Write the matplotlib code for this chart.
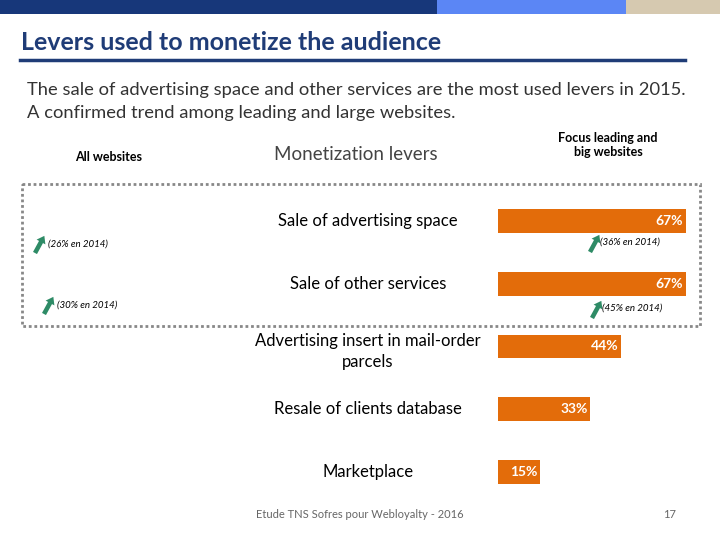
import matplotlib
matplotlib.use("Agg")
import matplotlib.pyplot as plt
from matplotlib.patches import Rectangle, FancyArrow
from matplotlib.transforms import blended_transform_factory

# Data
levers = ["Sale of advertising space", "Sale of other services",
          "Advertising insert in mail-order\nparcels", "Resale of clients database",
          "Marketplace"]
big_sites = [67, 67, 44, 33, 15]
notes_all = ["(26% en 2014)", "(30% en 2014)"]
notes_big = ["(36% en 2014)", "(45% en 2014)"]

font = "Lato"
navy = "#1F3C77"
orange = "#E36C0A"
green = "#2E8B66"

fig = plt.figure(figsize=(7.2, 5.4), dpi=100)

# overlay in pixel coordinates for the slide decorations
bg = fig.add_axes([0, 0, 1, 1])
bg.set_xlim(0, 720)
bg.set_ylim(540, 0)
bg.axis("off")

bg.add_patch(Rectangle((0, 0), 437, 14, color="#17377A", lw=0))
bg.add_patch(Rectangle((437, 0), 189, 14, color="#5B86F5", lw=0))
bg.add_patch(Rectangle((626, 0), 94, 14, color="#D6C9B0", lw=0))

bg.text(21, 42, "Levers used to monetize the audience", fontsize=18,
        color=navy, family=font, fontweight="bold", va="center", ha="left")
bg.plot([20, 685], [60, 60], color=navy, lw=2.5)

bg.text(27, 90, "The sale of advertising space and other services are the most used levers in 2015.",
        fontsize=13.2, color="#333333", family=font, va="center")
bg.text(27, 113, "A confirmed trend among leading and large websites.",
        fontsize=13.2, color="#333333", family=font, va="center")

bg.text(109, 157, "All websites", fontsize=9, fontweight="bold", family=font,
        ha="center", va="center")
bg.text(356, 155, "Monetization levers", fontsize=13.5, color="#444444", family=font,
        ha="center", va="center")
bg.text(608, 145, "Focus leading and\nbig websites", fontsize=9, fontweight="bold",
        family=font, ha="center", va="center", linespacing=1.3)

bg.add_patch(Rectangle((22, 184), 678, 142, fill=False, ec="#888888",
                       lw=2, ls=(0, (1, 1))))

# green up arrows with 2014 values
for (x, y), txt in zip([(35, 253), (44, 314)], notes_all):
    bg.add_patch(FancyArrow(x, y, 6, -11, width=4.5, head_width=10, head_length=7,
                            color=green, lw=0))
    bg.text(x + 13, y - 9, txt, fontsize=7, style="italic",
            family=font, va="center", ha="left")
for (x, y), txt in zip([(590, 252), (592, 318)], notes_big):
    bg.add_patch(FancyArrow(x, y, 6, -11, width=4.5, head_width=10, head_length=7,
                            color=green, lw=0))
    bg.text(x + 10, y - 10, txt, fontsize=7, style="italic", family=font,
            va="center", ha="left")

bg.text(360, 515, "Etude TNS Sofres pour Webloyalty - 2016", fontsize=8,
        color="#666666", family=font, ha="center", va="center")
bg.text(670, 515, "17", fontsize=8, color="#666666", family=font,
        ha="center", va="center")

# bar chart
left_px, width_px = 498, 280
top_px, bottom_px = 189.6, 503.4
ax = fig.add_axes([left_px / 720, 1 - bottom_px / 540, width_px / 720,
                   (bottom_px - top_px) / 540])
ax.patch.set_alpha(0)
ypos = list(range(len(levers)))
ax.barh(ypos, big_sites, height=0.38, color=orange)
ax.set_xlim(0, 100)
ax.set_ylim(len(levers) - 0.5, -0.5)
ax.axis("off")

for y, v in zip(ypos, big_sites):
    ax.text(v - 1, y, f"{v}%", color="white", fontweight="bold", fontsize=10,
            family=font, ha="right", va="center")

trans = blended_transform_factory(ax.transAxes, ax.transData)
for y, lab in zip(ypos, levers):
    ax.text((368 - left_px) / width_px, y + (0.08 if "\n" in lab else 0.0), lab,
            transform=trans, fontsize=12, family=font, ha="center", va="center",
            linespacing=1.45)

fig.savefig("out.png", dpi=100)
